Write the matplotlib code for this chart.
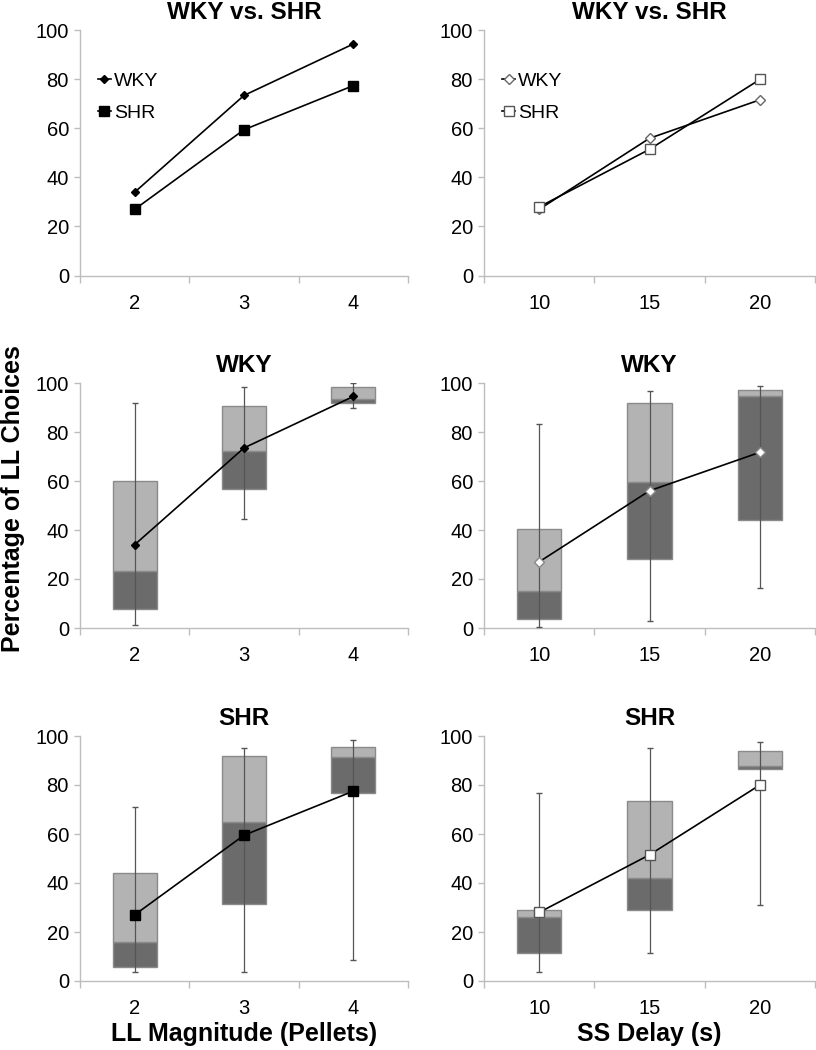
import matplotlib
matplotlib.use("Agg")
import matplotlib.pyplot as plt
import numpy as np

plt.rcParams["font.family"] = ["Liberation Sans", "DejaVu Sans"]

# categories
magnitude_labels = ["2", "3", "4"]
delay_labels = ["10", "15", "20"]

# group means (percentage of LL choices)
wky_mag_mean = [34, 73.5, 94.5]
shr_mag_mean = [27, 59.5, 77.5]
wky_delay_mean = [27, 56, 71.7]
shr_delay_mean = [28, 51.5, 80]

# box summaries: min, Q1, median, Q3, max
wky_mag_min = [1.4, 44.3, 89.7]
wky_mag_q1 = [7.7, 56.8, 92.0]
wky_mag_med = [23.4, 72.1, 93.6]
wky_mag_q3 = [60.2, 90.6, 98.2]
wky_mag_max = [91.7, 98.4, 100]

wky_delay_min = [0.4, 2.9, 16.5]
wky_delay_q1 = [3.6, 28.0, 44.0]
wky_delay_med = [15.2, 59.4, 94.7]
wky_delay_q3 = [40.4, 91.8, 97.1]
wky_delay_max = [83.2, 96.7, 98.9]

shr_mag_min = [3.8, 3.8, 8.4]
shr_mag_q1 = [5.7, 31.5, 76.9]
shr_mag_med = [16.0, 64.9, 91.3]
shr_mag_q3 = [44.1, 91.7, 95.5]
shr_mag_max = [71.2, 95.0, 98.2]

shr_delay_min = [3.8, 11.5, 30.9]
shr_delay_q1 = [11.6, 29.1, 86.6]
shr_delay_med = [26.1, 41.9, 87.7]
shr_delay_q3 = [28.8, 73.6, 93.7]
shr_delay_max = [76.8, 95.1, 97.7]

LIGHT = "#b3b3b3"
DARK = "#6b6b6b"
EDGE = "#8a8a8a"
SPINE = "#bdbdbd"

fig = plt.figure(figsize=(8.16, 10.5), dpi=100)

col_left = [80 / 816, 484 / 816]
col_width = [328 / 816, 331 / 816]
row_bottom = [1 - 275.5 / 1050, 1 - 628 / 1050, 1 - 981 / 1050]
row_height = 245 / 1050


def style_axis(ax, labels):
    x = np.arange(1, len(labels) + 1)
    ax.set_xlim(0.5, len(labels) + 0.5)
    ax.set_ylim(0, 100)
    ax.set_xticks(x)
    ax.set_xticklabels(labels)
    ax.set_xticks(np.arange(0.5, len(labels) + 1), minor=True)
    ax.tick_params(axis="x", which="major", length=0, pad=13, labelsize=14.5)
    ax.tick_params(axis="x", which="minor", length=5, color=SPINE, width=1)
    ax.set_yticks([0, 20, 40, 60, 80, 100])
    ax.tick_params(axis="y", length=4, color=SPINE, width=1, labelsize=14.5, pad=4)
    for s in ["top", "right"]:
        ax.spines[s].set_visible(False)
    for s in ["left", "bottom"]:
        ax.spines[s].set_color(SPINE)
        ax.spines[s].set_linewidth(1)
    return x


def draw_boxes(ax, lo, q1, med, q3, hi):
    x = np.arange(1, len(q1) + 1)
    q1, med, q3 = np.array(q1), np.array(med), np.array(q3)
    ax.bar(x, med - q1, bottom=q1, width=0.4, color=DARK, edgecolor=EDGE, linewidth=1, zorder=2)
    ax.bar(x, q3 - med, bottom=med, width=0.4, color=LIGHT, edgecolor=EDGE, linewidth=1, zorder=2)
    ax.vlines(x, lo, hi, color="#555555", linewidth=0.9, zorder=3)
    ax.plot(x, lo, ls="none", marker="_", ms=4, color="#555555", zorder=3)
    ax.plot(x, hi, ls="none", marker="_", ms=4, color="#555555", zorder=3)


def add_legend(ax):
    ax.legend(loc="upper left", bbox_to_anchor=(0.03, 0.86), frameon=False, fontsize=14,
              handlelength=0.7, handletextpad=0.15, labelspacing=0.72, borderaxespad=0)


title_kw = dict(fontsize=17.5, fontweight="bold", pad=8)
xlabel_kw = dict(fontsize=18, fontweight="bold", labelpad=3)

# top left: magnitude
ax = fig.add_axes([col_left[0], row_bottom[0], col_width[0], row_height])
x = style_axis(ax, magnitude_labels)
ax.plot(x, wky_mag_mean, color="black", lw=1.2, marker="D", ms=4.5, label="WKY")
ax.plot(x, shr_mag_mean, color="black", lw=1.2, marker="s", ms=6.5, label="SHR")
add_legend(ax)
ax.set_title("WKY vs. SHR", **title_kw)

# top right: delay
ax = fig.add_axes([col_left[1], row_bottom[0], col_width[1], row_height])
x = style_axis(ax, delay_labels)
ax.plot(x, wky_delay_mean, color="black", lw=1.2, marker="D", ms=5, mfc="white", mec="#666666", label="WKY")
ax.plot(x, shr_delay_mean, color="black", lw=1.2, marker="s", ms=7, mfc="white", mec="#555555", label="SHR")
add_legend(ax)
ax.set_title("WKY vs. SHR", **title_kw)

# middle left: WKY magnitude
ax = fig.add_axes([col_left[0], row_bottom[1], col_width[0], row_height])
x = style_axis(ax, magnitude_labels)
draw_boxes(ax, wky_mag_min, wky_mag_q1, wky_mag_med, wky_mag_q3, wky_mag_max)
ax.plot(x, wky_mag_mean, color="black", lw=1.2, marker="D", ms=4.5, zorder=4)
ax.set_title("WKY", **title_kw)

# middle right: WKY delay
ax = fig.add_axes([col_left[1], row_bottom[1], col_width[1], row_height])
x = style_axis(ax, delay_labels)
draw_boxes(ax, wky_delay_min, wky_delay_q1, wky_delay_med, wky_delay_q3, wky_delay_max)
ax.plot(x, wky_delay_mean, color="black", lw=1.2, marker="D", ms=5, mfc="white", mec="#888888", zorder=4)
ax.set_title("WKY", **title_kw)

# bottom left: SHR magnitude
ax = fig.add_axes([col_left[0], row_bottom[2], col_width[0], row_height])
x = style_axis(ax, magnitude_labels)
draw_boxes(ax, shr_mag_min, shr_mag_q1, shr_mag_med, shr_mag_q3, shr_mag_max)
ax.plot(x, shr_mag_mean, color="black", lw=1.2, marker="s", ms=6.5, zorder=4)
ax.set_title("SHR", **title_kw)
ax.set_xlabel("LL Magnitude (Pellets)", **xlabel_kw)

# bottom right: SHR delay
ax = fig.add_axes([col_left[1], row_bottom[2], col_width[1], row_height])
x = style_axis(ax, delay_labels)
draw_boxes(ax, shr_delay_min, shr_delay_q1, shr_delay_med, shr_delay_q3, shr_delay_max)
ax.plot(x, shr_delay_mean, color="black", lw=1.2, marker="s", ms=7, mfc="white", mec="#555555", zorder=4)
ax.set_title("SHR", **title_kw)
ax.set_xlabel("SS Delay (s)", **xlabel_kw)

fig.text(0.016, 1 - 499 / 1050, "Percentage of LL Choices", rotation=90,
         ha="center", va="center", fontsize=18, fontweight="bold")

fig.savefig("out.png", dpi=100)
